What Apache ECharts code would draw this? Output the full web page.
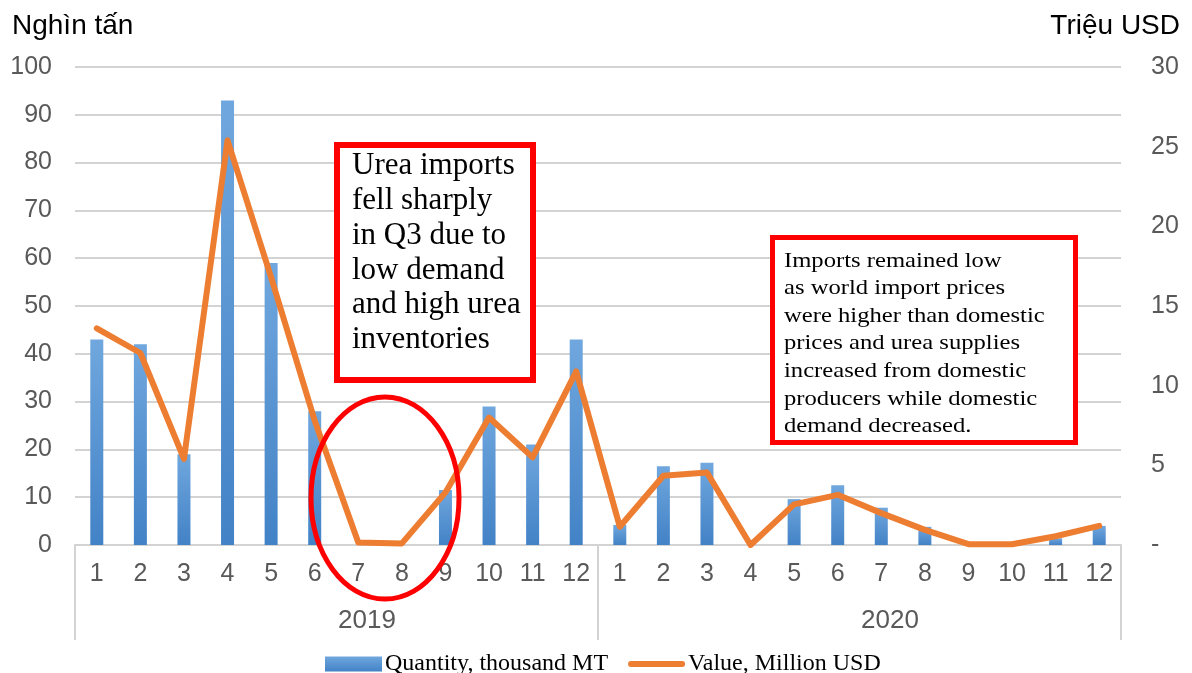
<!DOCTYPE html>
<html>
<head>
<meta charset="utf-8">
<script src="https://cdn.jsdelivr.net/npm/echarts@6/dist/echarts.min.js"></script>
<style>
  html, body { margin: 0; padding: 0; background: #fff; }
  #chart { width: 1192px; height: 673px; }
</style>
</head>
<body>
<div id="chart"></div>
<script>
// data
const months = ['1','2','3','4','5','6','7','8','9','10','11','12',
                '1','2','3','4','5','6','7','8','9','10','11','12']
const years = ['2019', '2020']
const quantity = [43, 42, 19, 93, 59, 28, 0, 0, 11.5, 29, 21, 43,
                  4.2, 16.5, 17.2, 0, 9.6, 12.5, 7.8, 3.8, 0, 0, 1.4, 4.0]
const value = [13.6, 12.05, 5.4, 25.4, 16.8, 7.8, 0.15, 0.1, 3.3, 8.0, 5.5, 10.9,
               1.15, 4.35, 4.55, 0, 2.55, 3.15, 2.0, 0.95, 0.05, 0.05, 0.55, 1.2]
const leftTicks = { min: 0, max: 100, step: 10 }
const rightTicks = { min: 0, max: 30, step: 5 }

const note1 = ['Urea imports', 'fell sharply', 'in Q3 due to', 'low demand', 'and high urea', 'inventories']
const note2 = ['Imports remained low', 'as world import prices', 'were higher than domestic',
               'prices and urea supplies', 'increased from domestic', 'producers while domestic',
               'demand decreased.']

const sans = '"Liberation Sans", Arial, sans-serif'
const serif = '"Liberation Serif", "Times New Roman", serif'
const grey = '#595959'
const gridGrey = '#d3d3d3'

const chart = echarts.init(document.getElementById('chart'))

const option = {
    animation: false,
    grid: { left: 75, right: 71, top: 67, bottom: 128 },
    legend: {
        top: 647,
        left: 320,
        itemGap: 20,
        itemWidth: 57,
        itemHeight: 15,
        textStyle: { fontFamily: serif, fontSize: 24, color: '#000', padding: [0, 0, 0, -2] },
        data: [
            { name: 'Quantity, thousand MT', icon: 'rect' },
            { name: 'Value, Million USD', icon: 'path://M3,0 L56,0 A3,3 0 0 1 56,6 L3,6 A3,3 0 0 1 3,0 Z' }
        ]
    },
    xAxis: [
        {
            type: 'category',
            data: months,
            axisLine: { lineStyle: { color: gridGrey, width: 2 } },
            axisTick: { show: false },
            axisLabel: { fontFamily: sans, fontSize: 25, color: grey, margin: 17, interval: 0 }
        },
        {
            type: 'category',
            data: years,
            position: 'bottom',
            axisLine: { show: false },
            axisTick: { show: true, length: 95, lineStyle: { color: gridGrey, width: 2 } },
            axisLabel: { fontFamily: sans, fontSize: 26, color: grey, margin: 63, padding: [0, 0, 0, 61] }
        }
    ],
    yAxis: [
        {
            type: 'value',
            min: leftTicks.min,
            max: leftTicks.max,
            interval: leftTicks.step,
            axisLine: { show: false },
            axisTick: { show: false },
            splitLine: { lineStyle: { color: gridGrey, width: 2 } },
            axisLabel: { fontFamily: sans, fontSize: 25, color: grey, margin: 23 }
        },
        {
            type: 'value',
            min: rightTicks.min,
            max: rightTicks.max,
            interval: rightTicks.step,
            axisLine: { show: false },
            axisTick: { show: false },
            splitLine: { show: false },
            axisLabel: {
                fontFamily: sans, fontSize: 25, color: grey, margin: 30,
                formatter: v => (v === 0 ? '-' : v)
            }
        }
    ],
    series: [
        {
            name: 'Quantity, thousand MT',
            type: 'bar',
            data: quantity,
            barWidth: 13,
            itemStyle: {
                color: new echarts.graphic.LinearGradient(0, 0, 0, 1, [
                    { offset: 0, color: '#70a7de' },
                    { offset: 1, color: '#4282c6' }
                ])
            }
        },
        {
            name: 'Value, Million USD',
            type: 'line',
            yAxisIndex: 1,
            data: value,
            symbol: 'none',
            lineStyle: { color: '#ed7d31', width: 6, join: 'round', cap: 'round' },
            itemStyle: { color: '#ed7d31' }
        }
    ],
    graphic: [
        {
            type: 'text', left: 12, top: 12,
            style: { text: 'Nghìn tấn', font: '28px ' + sans, fill: '#000' }
        },
        {
            type: 'text', right: 12, top: 12,
            style: { text: 'Triệu USD', font: '28px ' + sans, fill: '#000' }
        },
        {
            type: 'rect', z: 50,
            shape: { x: 337, y: 145, width: 196, height: 235 },
            style: { fill: '#fff', stroke: '#ff0000', lineWidth: 6 }
        },
        {
            type: 'text', z: 51, x: 352, y: 149,
            style: { text: note1.join('\n'), font: '31px ' + serif, lineHeight: 34.7, fill: '#000' }
        },
        {
            type: 'ellipse', z: 50,
            shape: { cx: 385, cy: 498, rx: 74, ry: 101 },
            style: { fill: 'none', stroke: '#ff0000', lineWidth: 5 }
        },
        {
            type: 'rect', z: 50,
            shape: { x: 772.5, y: 237.5, width: 303, height: 205 },
            style: { fill: '#fff', stroke: '#ff0000', lineWidth: 5 }
        },
        {
            type: 'text', z: 51, x: 784, y: 247, scaleX: 1.12,
            style: { text: note2.join('\n'), font: '22px ' + serif, lineHeight: 27.6, fill: '#000' }
        }
    ]
}

chart.setOption(option)
</script>
</body>
</html>
